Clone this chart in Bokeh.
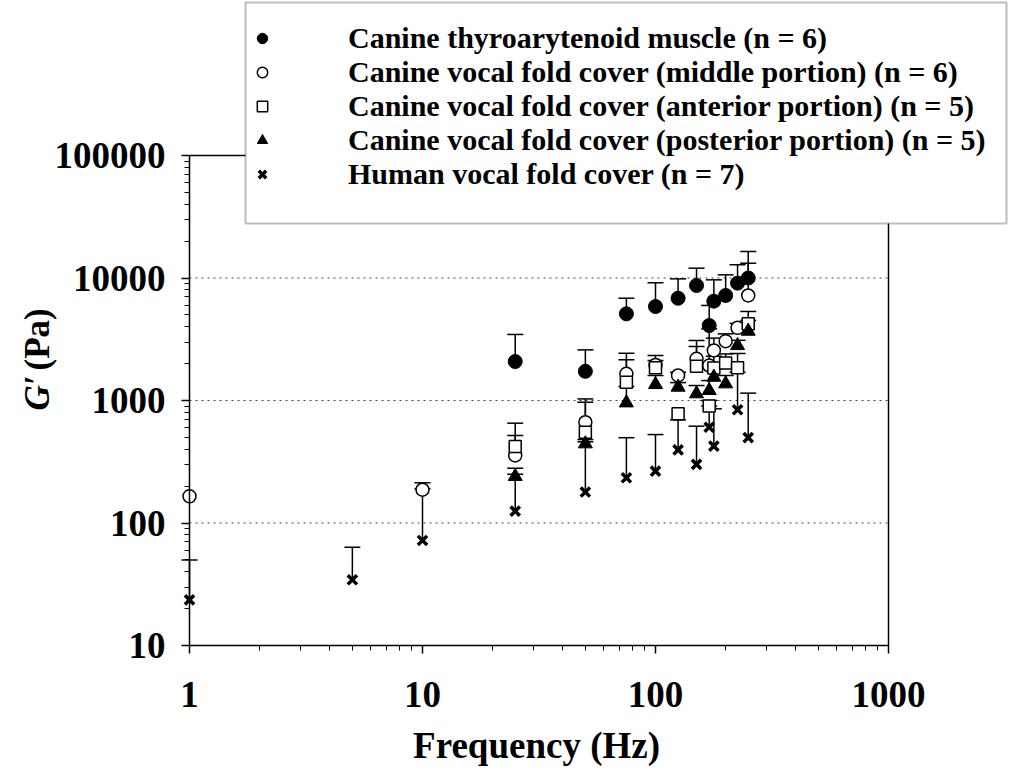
from math import pi
from bokeh.plotting import figure
from bokeh.models import (FixedTicker, PrintfTickFormatter, Legend, LegendItem,
                          BoxAnnotation, Label)
from bokeh.embed import file_html
from bokeh.resources import INLINE

FONT = "Liberation Serif"

# ---- data ----
ta_freq = [25, 50, 75, 100, 125, 150, 170, 178, 200, 225, 250]
ta_val = [2080, 1730, 5100, 5850, 6840, 8690, 4090, 6470, 7200, 9080, 10000]
ta_up = [3460, 2590, 6840, 9140, 9840, 12030, 5970, 9660, 10610, 12830, 16440]

mid_freq = [1, 10, 25, 50, 75, 100, 125, 150, 170, 178, 200, 225, 250]
mid_val = [165, 187, 356, 665, 1650, 1950, 1600, 2190, 1930, 2560, 3050, 3920, 7200]
mid_up = [165, 213, 518, 1030, 2430, 2330, 1700, 3090, 3850, 3230, 3500, 4260, 13200]

ant_freq = [25, 50, 75, 100, 125, 150, 170, 178, 200, 225, 250]
ant_val = [421, 551, 1410, 1850, 778, 1900, 900, 1840, 2020, 1850, 4230]
ant_up = [653, 968, 2150, 2120, 778, 2760, 1000, 2300, 2400, 2420, 5330]

post_freq = [25, 50, 75, 100, 125, 150, 170, 178, 200, 225, 250]
post_val = [240, 443, 957, 1350, 1285, 1135, 1208, 1550, 1368, 2810, 3680]
post_up = [280, 480, 1300, 1600, 1400, 1325, 1455, 1800, 1600, 3100, 4500]

hum_freq = [1, 5, 10, 25, 50, 75, 100, 125, 150, 170, 178, 225, 250]
hum_val = [23.6, 34.4, 72, 125, 179, 234, 265, 395, 301, 605, 424, 840, 497]
hum_up = [50, 63.4, 190, 250, 460, 497, 527, 695, 617, 900, 855, 1700, 1148]

labels = [
    "Canine thyroarytenoid muscle (n = 6)",
    "Canine vocal fold cover (middle portion) (n = 6)",
    "Canine vocal fold cover (anterior portion) (n = 5)",
    "Canine vocal fold cover (posterior portion) (n = 5)",
    "Human vocal fold cover (n = 7)",
]
x_title = "Frequency (Hz)"
y_title_sym = "G\u2032"
y_title_unit = "(Pa)"

x_major = [1, 10, 100, 1000]
x_minor = [m * 10 ** e for e in range(0, 3) for m in range(2, 10)]
y_major = [10, 100, 1000, 10000, 100000]
y_minor = [m * 10 ** e for e in range(1, 5) for m in range(2, 10)]
grid_lines = [100, 1000, 10000]

# ---- layout geometry (pixels) ----
W, H = 1008, 770
AX_X = 189          # canvas x of the y axis (f = 1 Hz)
AX_Y = 645          # canvas y of the x axis (G' = 10 Pa)
DEC_X = 233.0       # px per decade on x
DEC_Y = 122.5       # px per decade on y

x_start = 10 ** (-AX_X / DEC_X)
x_end = 10 ** ((W - AX_X) / DEC_X)
y_start = 10 ** (1 - (H - AX_Y) / DEC_Y)
y_end = 10 ** (1 + AX_Y / DEC_Y)

p = figure(width=W, height=H, x_axis_type="log", y_axis_type="log",
           x_range=(x_start, x_end), y_range=(y_start, y_end),
           output_backend="svg", toolbar_location=None, min_border=0)
p.outline_line_color = None
p.background_fill_color = "white"
p.border_fill_color = "white"
p.xgrid.visible = False
p.ygrid.visible = False

for ax, major, minor in ((p.xaxis, x_major, x_minor), (p.yaxis, y_major, y_minor)):
    ax.ticker = FixedTicker(ticks=major, minor_ticks=minor)
    ax.formatter = PrintfTickFormatter(format="%d")
    ax.bounds = (major[0], major[-1])
    ax.axis_line_color = "black"
    ax.axis_line_width = 1.5
    ax.major_tick_in = 0
    ax.major_tick_out = 8
    ax.minor_tick_in = 0
    ax.minor_tick_out = 5
    ax.major_tick_line_color = "black"
    ax.major_tick_line_width = 1.5
    ax.minor_tick_line_color = "black"
    ax.minor_tick_line_width = 1
    ax.major_label_text_font = FONT
    ax.major_label_text_font_style = "bold"
    ax.major_label_text_font_size = "37px"
    ax.major_label_text_color = "black"

p.yaxis.fixed_location = x_major[0]
p.xaxis.fixed_location = y_major[0]
p.xaxis.major_label_standoff = 28
p.yaxis.major_label_standoff = 16

# dotted grid lines limited to the data frame, plus top/right frame edges
p.segment(x0=[x_major[0]] * len(grid_lines), x1=[x_major[-1]] * len(grid_lines),
          y0=grid_lines, y1=grid_lines, line_color="#444444", line_width=1, line_dash="2 4")
p.segment(x0=[x_major[0], x_major[-1]], x1=[x_major[-1], x_major[-1]],
          y0=[y_major[-1], y_major[0]], y1=[y_major[-1], y_major[-1]],
          line_color="black", line_width=1.5)

series = [
    (ta_freq, ta_val, ta_up, dict(marker="circle", size=14, fill_color="black", line_color="black", line_width=1)),
    (mid_freq, mid_val, mid_up, dict(marker="circle", size=13, fill_color="white", line_color="black", line_width=1.5)),
    (ant_freq, ant_val, ant_up, dict(marker="square", size=12, fill_color="white", line_color="black", line_width=1.5)),
    (post_freq, post_val, post_up, dict(marker="triangle", size=14, fill_color="black", line_color="black", line_width=1)),
    (hum_freq, hum_val, hum_up, dict(marker="x", size=13, line_color="black", line_width=3.5)),
]

# error bars (upper only)
for f, v, u, _ in series:
    keep = [i for i in range(len(f)) if u[i] > v[i] * 1.01]
    ef = [f[i] for i in keep]
    ev = [v[i] for i in keep]
    eu = [u[i] for i in keep]
    p.segment(x0=ef, y0=ev, x1=ef, y1=eu, line_color="black", line_width=1.5)
    p.scatter(x=ef, y=eu, marker="dash", size=16, line_color="black", line_width=1.5)

renderers = []
for f, v, u, style in series:
    renderers.append(p.scatter(x=f, y=v, **style))

# legend box (screen px, y measured up from the canvas bottom)
box = BoxAnnotation(left=245, right=1006, bottom=H - 223, top=H - 2,
                    left_units="screen", right_units="screen",
                    bottom_units="screen", top_units="screen",
                    fill_color="white", fill_alpha=1.0,
                    line_color="#222222", line_width=2)
p.add_layout(box)

legend = Legend(items=[LegendItem(label=lab, renderers=[r]) for lab, r in zip(labels, renderers)],
                location=(249, H - 191), orientation="vertical",
                padding=0, margin=0, spacing=0,
                glyph_width=26, glyph_height=30, label_height=30,
                label_standoff=73,
                label_text_font=FONT, label_text_font_style="bold",
                label_text_font_size="30px", label_text_color="black",
                border_line_color=None, background_fill_alpha=0)
p.add_layout(legend, "center")

# axis titles
p.add_layout(Label(x=536, y=H - 745, x_units="screen", y_units="screen", text=x_title,
                   text_font=FONT, text_font_style="bold", text_font_size="37px",
                   text_align="center", text_baseline="middle", text_color="black"))
p.add_layout(Label(x=37, y=H - 410, x_units="screen", y_units="screen", text=y_title_sym,
                   angle=pi / 2, text_font=FONT, text_font_style="bold italic",
                   text_font_size="35px", text_align="left", text_baseline="middle",
                   text_color="black"))
p.add_layout(Label(x=37, y=H - 370, x_units="screen", y_units="screen", text=y_title_unit,
                   angle=pi / 2, text_font=FONT, text_font_style="bold",
                   text_font_size="35px", text_align="left", text_baseline="middle",
                   text_color="black"))

open("out.html", "w").write(file_html(p, INLINE))
